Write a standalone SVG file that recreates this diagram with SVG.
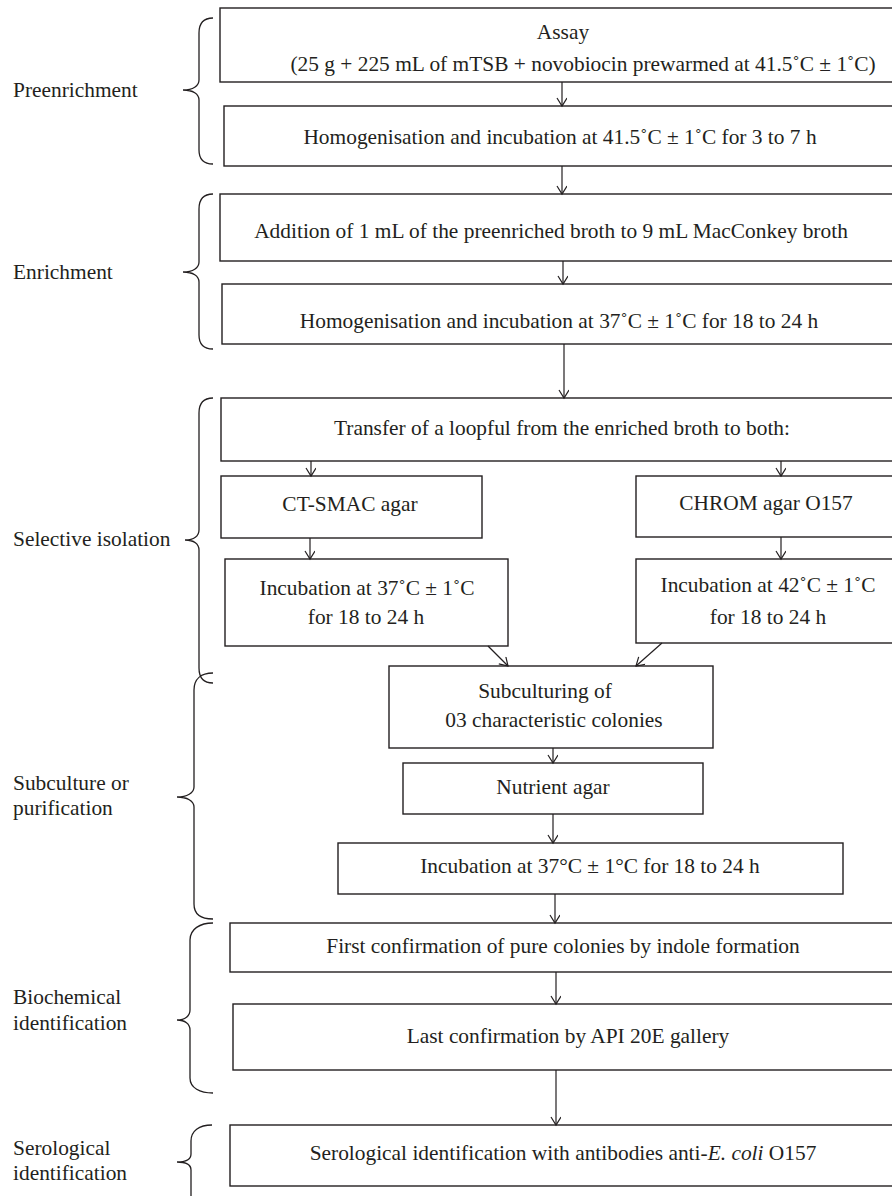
<svg xmlns="http://www.w3.org/2000/svg" width="892" height="1196" viewBox="0 0 892 1196">
<defs>
<marker id="ah" markerWidth="12" markerHeight="12" refX="9" refY="5" orient="auto" markerUnits="userSpaceOnUse">
<path d="M1,0 L9,5 L1,10" fill="none" stroke="#231f20" stroke-width="1.2"/>
</marker>
<style>
rect{fill:#fff;stroke:#231f20;stroke-width:1.4}
text{font-family:"Liberation Serif","Times New Roman",serif;font-size:21.4px;fill:#231f20}
.m{text-anchor:middle}
.br{fill:none;stroke:#231f20;stroke-width:1.3}
.c line{stroke:#231f20;stroke-width:1.2;marker-end:url(#ah)}
</style>
</defs>
<rect x="0" y="0" width="892" height="1196" style="fill:#fff;stroke:none"/>

<g id="labels">
<text x="13" y="97">Preenrichment</text>
<text x="13" y="279">Enrichment</text>
<text x="13" y="546">Selective isolation</text>
<text x="13" y="790">Subculture or</text>
<text x="13" y="815">purification</text>
<text x="13" y="1004">Biochemical</text>
<text x="13" y="1030">identification</text>
<text x="13" y="1155">Serological</text>
<text x="13" y="1180">identification</text>
</g>

<g id="braces">
<path class="br" d="M213,18 C204,18 199,23 199,33 L199,80 C199,86 193,90 183,90 C193,90 199,94 199,100 L199,150 C199,159 204,164 213,164"/>
<path class="br" d="M213,194 C204,194 199,199 199,209 L199,262 C199,268 193,272 183,272 C193,272 199,276 199,282 L199,335 C199,344 204,349 213,349"/>
<path class="br" d="M213,398 C204,398 199,403 199,413 L199,530 C199,536 194,540 185,540 C194,540 199,544 199,550 L199,668 C199,678 204,683 213,683"/>
<path class="br" d="M213,673 C201,673 194,679 194,690 L194,787 C194,793 187,797 177,797 C187,797 194,801 194,807 L194,904 C194,914 201,919 213,919"/>
<path class="br" d="M213,923 C200,923 190,929 190,940 L190,1010 C190,1016 185,1020 177,1020 C185,1020 190,1024 190,1030 L190,1078 C190,1088 200,1093 213,1093"/>
<path class="br" d="M212,1125 C199,1125 191,1131 191,1141 L191,1154 C191,1159 186,1162 177,1162 C186,1162 191,1165 191,1170 L191,1200"/>
</g>

<g id="n-assay"><rect x="220" y="8" width="680" height="74"/>
<text class="m" x="563" y="39">Assay</text>
<text class="m" x="583" y="71">(25 g + 225 mL of mTSB + novobiocin  prewarmed at 41.5˚C ± 1˚C)</text></g>
<g id="n-homog1"><rect x="224" y="106" width="676" height="60"/>
<text class="m" x="560" y="144">Homogenisation and incubation at 41.5˚C ± 1˚C for 3 to 7 h</text></g>
<g id="n-addition"><rect x="220" y="194" width="680" height="67"/>
<text class="m" x="551" y="238">Addition of 1 mL of the preenriched broth to 9 mL MacConkey broth</text></g>
<g id="n-homog2"><rect x="222" y="284" width="678" height="60"/>
<text class="m" x="559" y="328">Homogenisation and incubation at 37˚C ± 1˚C for 18 to 24 h</text></g>
<g id="n-transfer"><rect x="221" y="398" width="679" height="63"/>
<text class="m" x="562" y="435">Transfer of a loopful from the enriched broth to both:</text></g>
<g id="n-ctsmac"><rect x="221" y="476" width="261" height="62"/>
<text class="m" x="350" y="511">CT-SMAC agar</text></g>
<g id="n-chrom"><rect x="636" y="476" width="264" height="61"/>
<text class="m" x="766" y="510">CHROM agar O157</text></g>
<g id="n-incL"><rect x="225" y="559" width="283" height="87"/>
<text class="m" x="367" y="595">Incubation at 37˚C ± 1˚C</text>
<text class="m" x="366" y="624">for 18 to 24 h</text></g>
<g id="n-incR"><rect x="636" y="559" width="264" height="84"/>
<text class="m" x="768" y="592">Incubation at 42˚C ± 1˚C</text>
<text class="m" x="768" y="624">for 18 to 24 h</text></g>
<g id="n-subcult"><rect x="389" y="666" width="324" height="82"/>
<text class="m" x="545" y="698">Subculturing of</text>
<text class="m" x="554" y="727">03 characteristic colonies</text></g>
<g id="n-nutrient"><rect x="403" y="763" width="300" height="51"/>
<text class="m" x="553" y="794">Nutrient agar</text></g>
<g id="n-incub37"><rect x="338" y="843" width="505" height="51"/>
<text class="m" x="590" y="873">Incubation at 37°C ± 1°C for 18 to 24 h</text></g>
<g id="n-first"><rect x="230" y="923" width="670" height="49"/>
<text class="m" x="563" y="953">First confirmation of pure colonies by indole formation</text></g>
<g id="n-last"><rect x="233" y="1004" width="667" height="66"/>
<text class="m" x="568" y="1043">Last confirmation by API 20E gallery</text></g>
<g id="n-serol"><rect x="230" y="1125" width="670" height="61"/>
<text class="m" x="563" y="1160">Serological identification with antibodies anti-<tspan font-style="italic">E. coli</tspan> O157</text></g>

<g id="connectors" class="c">
<line x1="562" y1="82" x2="562" y2="106"/>
<line x1="562" y1="166" x2="562" y2="194"/>
<line x1="563" y1="261" x2="563" y2="284"/>
<line x1="564" y1="344" x2="564" y2="398"/>
<line x1="311" y1="461" x2="311" y2="476"/>
<line x1="781" y1="461" x2="781" y2="476"/>
<line x1="310" y1="538" x2="310" y2="559"/>
<line x1="781" y1="537" x2="781" y2="559"/>
<line x1="488" y1="646" x2="508" y2="666"/>
<line x1="662" y1="643" x2="636" y2="666"/>
<line x1="553" y1="748" x2="553" y2="763"/>
<line x1="553" y1="814" x2="553" y2="843"/>
<line x1="555" y1="894" x2="555" y2="923"/>
<line x1="556" y1="972" x2="556" y2="1004"/>
<line x1="556" y1="1070" x2="556" y2="1125"/>
</g>
</svg>
